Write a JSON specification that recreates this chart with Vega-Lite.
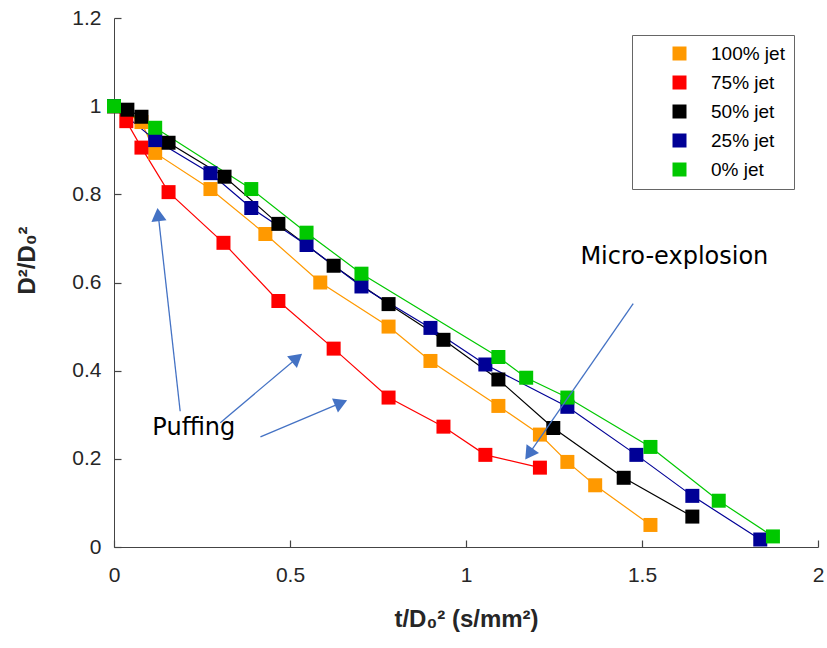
{
  "$schema": "https://vega.github.io/schema/vega-lite/v6.json",
  "width": 704,
  "height": 529,
  "autosize": {"type": "none"},
  "padding": {"left": 114, "top": 18, "right": 9, "bottom": 101},
  "background": "white",
  "config": {
    "view": {"stroke": null},
    "font": "Liberation Sans",
    "axis": {
      "grid": false,
      "domainColor": "#444444",
      "tickColor": "#444444",
      "tickSize": -7,
      "tickWidth": 1.2,
      "labelFlush": false,
      "labelFont": "Liberation Sans",
      "labelFontSize": 21,
      "labelColor": "#262626",
      "titleFont": "Liberation Sans",
      "titleFontSize": 24,
      "titleFontWeight": "bold",
      "titleColor": "#262626"
    },
    "legend": {
      "orient": "none",
      "legendX": 518,
      "legendY": 17,
      "strokeColor": "#666666",
      "fillColor": "white",
      "padding": 9,
      "symbolOffset": 29,
      "labelOffset": 22,
      "rowPadding": 9,
      "symbolSize": 196,
      "symbolType": "square",
      "symbolStrokeWidth": 0,
      "labelFont": "Liberation Sans",
      "labelFontSize": 19,
      "labelColor": "#000000"
    }
  },
  "datasets": {
    "decay": [
      {"series": "100% jet", "t": 0, "d2": 1.0},
      {"series": "100% jet", "t": 0.078, "d2": 0.964},
      {"series": "100% jet", "t": 0.117, "d2": 0.894},
      {"series": "100% jet", "t": 0.274, "d2": 0.812},
      {"series": "100% jet", "t": 0.43, "d2": 0.71},
      {"series": "100% jet", "t": 0.586, "d2": 0.6},
      {"series": "100% jet", "t": 0.78, "d2": 0.5},
      {"series": "100% jet", "t": 0.899, "d2": 0.422},
      {"series": "100% jet", "t": 1.092, "d2": 0.32},
      {"series": "100% jet", "t": 1.21, "d2": 0.255},
      {"series": "100% jet", "t": 1.288, "d2": 0.193},
      {"series": "100% jet", "t": 1.367, "d2": 0.14},
      {"series": "100% jet", "t": 1.524, "d2": 0.05},
      {"series": "75% jet", "t": 0, "d2": 1.0},
      {"series": "75% jet", "t": 0.035, "d2": 0.966},
      {"series": "75% jet", "t": 0.078, "d2": 0.906},
      {"series": "75% jet", "t": 0.155, "d2": 0.805},
      {"series": "75% jet", "t": 0.311, "d2": 0.69},
      {"series": "75% jet", "t": 0.467, "d2": 0.558},
      {"series": "75% jet", "t": 0.624, "d2": 0.45},
      {"series": "75% jet", "t": 0.78, "d2": 0.339},
      {"series": "75% jet", "t": 0.936, "d2": 0.273},
      {"series": "75% jet", "t": 1.055, "d2": 0.209},
      {"series": "75% jet", "t": 1.21, "d2": 0.18},
      {"series": "50% jet", "t": 0, "d2": 1.0},
      {"series": "50% jet", "t": 0.038, "d2": 0.992},
      {"series": "50% jet", "t": 0.078, "d2": 0.976},
      {"series": "50% jet", "t": 0.155, "d2": 0.917},
      {"series": "50% jet", "t": 0.314, "d2": 0.84},
      {"series": "50% jet", "t": 0.467, "d2": 0.733},
      {"series": "50% jet", "t": 0.624, "d2": 0.638},
      {"series": "50% jet", "t": 0.78, "d2": 0.551},
      {"series": "50% jet", "t": 0.936, "d2": 0.47},
      {"series": "50% jet", "t": 1.092, "d2": 0.38},
      {"series": "50% jet", "t": 1.248, "d2": 0.27},
      {"series": "50% jet", "t": 1.448, "d2": 0.157},
      {"series": "50% jet", "t": 1.643, "d2": 0.069},
      {"series": "25% jet", "t": 0, "d2": 1.0},
      {"series": "25% jet", "t": 0.117, "d2": 0.923},
      {"series": "25% jet", "t": 0.274, "d2": 0.848},
      {"series": "25% jet", "t": 0.39, "d2": 0.769},
      {"series": "25% jet", "t": 0.547, "d2": 0.685},
      {"series": "25% jet", "t": 0.703, "d2": 0.591},
      {"series": "25% jet", "t": 0.899, "d2": 0.497},
      {"series": "25% jet", "t": 1.055, "d2": 0.414},
      {"series": "25% jet", "t": 1.288, "d2": 0.318},
      {"series": "25% jet", "t": 1.484, "d2": 0.209},
      {"series": "25% jet", "t": 1.643, "d2": 0.116},
      {"series": "25% jet", "t": 1.836, "d2": 0.017},
      {"series": "0% jet", "t": 0, "d2": 1.0},
      {"series": "0% jet", "t": 0.117, "d2": 0.951},
      {"series": "0% jet", "t": 0.39, "d2": 0.812},
      {"series": "0% jet", "t": 0.547, "d2": 0.713},
      {"series": "0% jet", "t": 0.703, "d2": 0.62},
      {"series": "0% jet", "t": 1.092, "d2": 0.431},
      {"series": "0% jet", "t": 1.171, "d2": 0.384},
      {"series": "0% jet", "t": 1.288, "d2": 0.339},
      {"series": "0% jet", "t": 1.524, "d2": 0.227},
      {"series": "0% jet", "t": 1.718, "d2": 0.105},
      {"series": "0% jet", "t": 1.872, "d2": 0.024}
    ],
    "arrows": [
      {"x": 0.188, "y": 0.308, "hx": 0.1256, "hy": 0.754, "angle": -6.5},
      {"x": 0.302, "y": 0.282, "hx": 0.52, "hy": 0.429, "angle": 49.9},
      {"x": 0.416, "y": 0.25, "hx": 0.645, "hy": 0.327, "angle": 67.2},
      {"x": 1.475, "y": 0.552, "hx": 1.179, "hy": 0.211, "angle": 214.8}
    ],
    "notes": [
      {"x": 1.325, "y": 0.658, "label": "Micro-explosion"},
      {"x": 0.109, "y": 0.271, "label": "Puffing"}
    ]
  },
  "encoding": {
    "x": {
      "field": "t",
      "type": "quantitative",
      "scale": {"domain": [0, 2], "nice": false},
      "axis": {
        "values": [0, 0.5, 1, 1.5, 2],
        "format": "~g",
        "labelPadding": 24,
        "title": "t/D₀² (s/mm²)",
        "titlePadding": 22
      }
    },
    "y": {
      "field": "d2",
      "type": "quantitative",
      "scale": {"domain": [0, 1.2], "nice": false},
      "axis": {
        "values": [0, 0.2, 0.4, 0.6, 0.8, 1, 1.2],
        "format": "~g",
        "labelPadding": 20,
        "title": "D²/D₀²",
        "titlePadding": 32,
        "titleY": 242
      }
    }
  },
  "layer": [
    {
      "data": {"name": "decay"},
      "mark": {"type": "line", "strokeWidth": 1.2},
      "encoding": {
        "color": {
          "field": "series",
          "type": "nominal",
          "sort": null,
          "scale": {
            "domain": ["100% jet", "75% jet", "50% jet", "25% jet", "0% jet"],
            "range": ["#FF9900", "#FF0000", "#000000", "#000096", "#00C800"]
          },
          "legend": {"title": null}
        },
        "detail": {"field": "series"}
      }
    },
    {
      "data": {"name": "decay"},
      "mark": {"type": "point", "shape": "square", "filled": true, "size": 196, "opacity": 1},
      "encoding": {
        "color": {
          "field": "series",
          "type": "nominal",
          "sort": null,
          "scale": {
            "domain": ["100% jet", "75% jet", "50% jet", "25% jet", "0% jet"],
            "range": ["#FF9900", "#FF0000", "#000000", "#000096", "#00C800"]
          },
          "legend": {"title": null}
        }
      }
    },
    {
      "data": {"name": "arrows"},
      "mark": {"type": "rule", "color": "#4472C4", "strokeWidth": 1.3},
      "encoding": {
        "x": {"field": "x", "type": "quantitative"},
        "y": {"field": "y", "type": "quantitative"},
        "x2": {"field": "hx"},
        "y2": {"field": "hy"}
      }
    },
    {
      "data": {"name": "arrows"},
      "mark": {"type": "point", "shape": "triangle-up", "filled": true, "size": 230, "color": "#4472C4", "opacity": 1},
      "encoding": {
        "x": {"field": "hx", "type": "quantitative"},
        "y": {"field": "hy", "type": "quantitative"},
        "angle": {"field": "angle", "type": "quantitative", "scale": null}
      }
    },
    {
      "data": {"name": "notes"},
      "mark": {"type": "text", "align": "left", "baseline": "middle", "font": "DejaVu Sans", "fontSize": 24, "color": "#000000"},
      "encoding": {
        "x": {"field": "x", "type": "quantitative"},
        "y": {"field": "y", "type": "quantitative"},
        "text": {"field": "label"}
      }
    }
  ]
}
